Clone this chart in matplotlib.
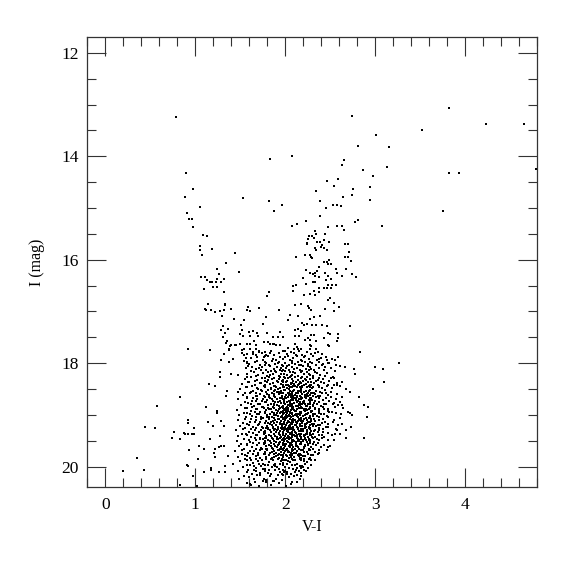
import matplotlib
matplotlib.use('Agg')
import matplotlib.pyplot as plt
from matplotlib.ticker import MultipleLocator

plt.rcParams['font.family'] = ['Liberation Serif', 'DejaVu Serif']

# (V-I, I) pairs
top_stars = [(0.79,13.25),(2.74,13.22),(3.82,13.06),(4.23,13.38),(4.65,13.37),(3.52,13.50),
             (3.01,13.59),(2.81,13.81),(3.15,13.83),(2.07,13.99),(1.83,14.06),(2.65,14.07),
             (2.63,14.16),(2.86,14.26),(2.97,14.39),(3.13,14.20),(3.82,14.33),(3.93,14.32),
             (4.79,14.25),(3.75,15.05),(3.07,15.35),(3.26,18.00),(3.09,18.11),(3.10,18.36),
             (3.00,18.07),(2.98,18.50)]

left_branch = [(0.90,14.32),(0.98,14.63),(0.89,14.78),(1.53,14.81),(1.05,14.99),(0.91,15.09),
               (0.93,15.21),(0.96,15.22),(0.97,15.37),(1.09,15.53),(1.13,15.55),(1.05,15.73),
               (1.05,15.81),(1.19,15.80),(1.07,15.91),(1.44,15.87),(1.34,16.06),(1.24,16.18),
               (1.49,16.23),(1.26,16.27),(1.06,16.33),(1.11,16.33),(1.13,16.40),(1.24,16.37),
               (1.32,16.38),(1.16,16.44),(1.19,16.44),(1.23,16.43),(1.29,16.43),(1.10,16.56),
               (1.20,16.53),(1.24,16.53),(1.32,16.62),(1.82,16.62),(1.80,16.70),(1.33,16.86),
               (1.33,16.88),(1.14,16.86),(1.11,16.95),(1.12,16.98),(1.17,16.98),(1.22,17.02),
               (1.27,17.00),(1.32,16.97),(1.40,16.96),(1.59,16.91),(1.58,16.98),(1.61,17.00),
               (1.71,16.93),(1.30,17.09),(1.43,17.15),(1.54,17.17),(1.51,17.26),(1.31,17.28),
               (1.75,17.24),(1.79,17.10),(1.29,17.35),(1.36,17.34),(1.33,17.42),(1.52,17.36),
               (1.60,17.39),(1.64,17.38),(1.69,17.42),(1.80,17.42),(1.50,17.44),(1.53,17.47),
               (1.31,17.49),(1.61,17.48),(1.70,17.47),(1.35,17.57),(1.34,17.61),(1.39,17.66),
               (1.45,17.64),(1.50,17.62),(1.57,17.63),(1.61,17.63),(1.65,17.58),(1.68,17.64),
               (1.76,17.60),(1.81,17.60),(0.92,17.73),(1.37,17.73),(1.54,17.73),(1.67,17.73),
               (1.82,14.86)]

giant_branch = [(2.59,14.43),(2.46,14.48),(2.54,14.57),(2.94,14.59),(2.34,14.67),(2.75,14.64),
                (2.74,14.75),(2.64,14.79),(2.94,14.84),(2.39,14.86),(1.96,14.95),(1.87,15.05),
                (2.45,15.00),(2.53,14.95),(2.57,14.95),(2.62,14.97),(2.39,15.16),(2.23,15.25),
                (2.81,15.24),(2.78,15.27),(2.08,15.34),(2.13,15.31),(2.47,15.37),(2.57,15.35),
                (2.63,15.35),(2.65,15.42),(2.33,15.44),(2.34,15.51),(2.44,15.51),(2.26,15.55),
                (2.30,15.55),(2.32,15.58),(2.25,15.60),(2.43,15.62),(2.49,15.65),(2.35,15.66),
                (2.39,15.65),(2.24,15.68),(2.24,15.70),(2.66,15.70),(2.70,15.70),(2.41,15.71),
                (2.40,15.75),(2.33,15.77),(2.43,15.78),(2.46,15.82),(2.34,15.82),(2.71,15.85),
                (2.12,15.94),(2.22,15.91),(2.27,15.91),(2.29,15.94),(2.30,15.97),(2.66,15.94),
                (2.70,15.94),(2.73,16.02),(2.49,16.00),(2.43,16.04),(2.46,16.05),(2.51,16.08),
                (2.47,16.09),(2.37,16.14),(2.68,16.17),(2.56,16.18),(2.23,16.20),(2.35,16.22),
                (2.57,16.25),(2.33,16.25),(2.44,16.25),(2.31,16.27),(2.27,16.26),(2.74,16.27),
                (2.63,16.31),(2.33,16.32),(2.37,16.33),(2.48,16.32),(2.20,16.35),(2.79,16.34),
                (2.51,16.37),(2.45,16.39),(2.33,16.43),(2.31,16.43),(2.23,16.46),(2.56,16.48),
                (2.48,16.48),(2.52,16.49),(2.12,16.49),(2.09,16.51),(2.37,16.54),(2.43,16.55),
                (2.46,16.54),(2.51,16.55),(2.32,16.60),(2.38,16.62),(2.09,16.60),(2.28,16.66),
                (2.33,16.69),(2.21,16.69),(2.50,16.74),(2.47,16.78),(2.54,16.84),(2.11,16.87),
                (2.17,16.85),(2.25,16.90),(2.26,16.93),(2.44,16.95),(2.60,16.92),(2.29,16.98),
                (1.93,16.97),(2.54,17.00),(2.05,17.07),(2.14,17.08),(2.32,17.11),(2.39,17.09),
                (2.27,17.15),(2.03,17.17),(2.19,17.22),(2.24,17.24),(2.21,17.26),(2.30,17.27),
                (2.34,17.27),(2.41,17.27),(2.46,17.29),(2.72,17.29),(2.14,17.33),(2.11,17.36),
                (1.94,17.40),(2.18,17.38),(2.47,17.42),(2.50,17.43),(2.59,17.44),(2.29,17.45),
                (2.32,17.46),(1.86,17.49),(1.92,17.49),(1.97,17.49),(2.11,17.48),(2.15,17.47),
                (2.25,17.51),(2.43,17.51),(2.59,17.51),(1.83,17.62),(1.87,17.62),(1.94,17.64),
                (2.11,17.62),(2.22,17.55),(2.28,17.55),(2.34,17.57),(2.43,17.52),(2.57,17.58),
                (2.27,17.64),(2.29,17.66),(2.13,17.68),(2.03,17.71),(2.10,17.73),(2.14,17.73),
                (2.17,17.73),(2.28,17.73),(2.34,17.73),(2.47,17.65),(2.49,17.67),(2.58,17.58),
                (2.83,17.78)]

faint_blue = [(0.83,18.65),(0.58,18.83),(0.44,19.23),(0.55,19.25),(0.76,19.33),(0.88,19.35),
              (0.74,19.44),(0.83,19.46),(0.35,19.84),(0.20,20.09),(0.43,20.06),(0.91,19.97),
              (0.83,20.35),(1.16,17.75),(1.40,17.64),(1.44,17.64),(1.86,17.63),(1.90,17.64),
              (1.32,17.82),(1.37,17.74),(1.29,17.94),(1.37,17.98),(1.42,17.91),(1.52,17.74),
              (1.52,17.81),(1.54,17.85),(1.57,17.82),(1.56,17.90),(1.54,17.96),(1.58,18.00),
              (1.61,17.73),(1.64,17.78),(1.67,17.84),(1.71,17.76),(1.74,17.81),(1.77,17.78),
              (1.79,17.85),(1.27,18.18),(1.27,18.27),(1.40,18.20),(1.47,18.23),(1.15,18.40),
              (1.22,18.45),(1.35,18.53),(1.34,18.63),(1.47,18.56),(1.12,18.84),(1.24,18.92),
              (1.24,18.96),(0.92,19.10),(0.92,19.15),(1.14,19.13),(1.29,19.11),(1.32,19.22),
              (0.89,19.36),(0.92,19.36),(0.96,19.36),(0.99,19.37),(0.99,19.25),(1.16,19.47),
              (1.28,19.40),(0.93,19.67),(1.04,19.60),(1.10,19.65),(1.22,19.65),(1.26,19.63),
              (1.29,19.60),(1.32,19.60),(1.03,19.85),(1.22,19.81),(1.36,19.79),(0.92,19.98),
              (1.17,20.02),(1.33,19.98),(1.42,19.95),(1.10,20.11),(1.26,20.11),(0.98,20.18),
              (1.33,20.10),(1.47,20.08),(1.02,20.38),(1.61,20.33),(1.49,20.23),(1.54,20.18),
              (1.20,19.21),(1.18,20.07),(1.21,19.74),(1.62,20.36),(1.79,20.29),(1.86,20.27)]

red_outskirts = [(2.52,17.91),(2.55,17.94),(2.59,17.89),(2.56,18.03),(2.61,18.05),(2.66,18.07),
                 (2.49,18.00),(2.42,18.02),(2.46,17.94),(2.76,18.11),(2.78,18.20),(2.51,18.28),
                 (2.54,18.29),(2.54,18.42),(2.57,18.42),(2.63,18.36),(2.68,18.50),(2.72,18.55),
                 (2.82,18.65),(2.87,18.81),(2.92,18.84),(2.70,18.94),(2.72,18.97),(2.74,19.00),
                 (2.53,18.78),(2.59,18.81),(2.63,18.81),(2.48,18.92),(2.52,18.94),(2.91,19.05),
                 (2.73,19.24),(2.67,19.29),(2.59,19.20),(2.57,19.29),(2.55,19.36),(2.61,19.36),
                 (2.87,19.45),(2.68,19.45),(2.54,19.49),(2.48,19.63),(2.50,19.60),(2.46,19.67),
                 (2.37,19.74),(2.18,20.03),(2.20,20.01),(2.11,20.10),(2.17,20.18),(2.02,20.10),
                 (1.99,20.10)]

core_bright = [(1.71,17.79),(1.84,17.77),(1.93,17.80),(1.97,17.76),(2.02,17.83),(2.06,17.78),(2.10,17.81),(2.15,17.77),(2.19,17.84),(2.24,17.79),(2.29,17.82),(2.36,17.78),(2.41,17.83),(1.88,17.84),(2.00,17.76),(2.12,17.85),
 (1.62,17.90),(1.69,17.88),(1.75,17.93),(1.81,17.87),(1.86,17.91),(1.90,17.94),(1.94,17.88),(1.98,17.92),(2.03,17.86),(2.05,17.94),(2.09,17.90),(2.13,17.87),(2.17,17.93),(2.21,17.89),(2.26,17.92),(2.31,17.87),(2.35,17.94),(2.40,17.90),(1.78,17.86),(2.00,17.89),
 (1.60,18.01),(1.66,17.97),(1.72,18.03),(1.77,17.98),(1.82,18.04),(1.85,17.96),(1.89,18.01),(1.93,17.97),(1.96,18.03),(2.00,17.99),(2.04,18.04),(2.07,17.96),(2.11,18.02),(2.14,17.98),(2.18,18.04),(2.22,17.97),(2.25,18.02),(2.30,17.99),(2.34,18.04),(2.38,17.97),(1.98,18.05),(2.08,18.00),
 (1.56,18.10),(1.63,18.07),(1.68,18.12),(1.74,18.08),(1.79,18.14),(1.83,18.06),(1.87,18.11),(1.91,18.08),(1.94,18.13),(1.97,18.06),(2.01,18.10),(2.04,18.14),(2.07,18.07),(2.10,18.12),(2.13,18.09),(2.16,18.14),(2.20,18.06),(2.23,18.11),(2.27,18.08),(2.32,18.13),(2.37,18.10),(2.44,18.07),(1.89,18.15),(2.02,18.06),(2.19,18.15),
 (1.58,18.21),(1.65,18.17),(1.70,18.23),(1.75,18.19),(1.80,18.24),(1.84,18.16),(1.86,18.21),(1.90,18.18),(1.93,18.24),(1.96,18.16),(1.99,18.20),(2.02,18.23),(2.05,18.17),(2.08,18.22),(2.11,18.19),(2.14,18.25),(2.17,18.16),(2.21,18.21),(2.24,18.18),(2.28,18.23),(2.33,18.17),(2.39,18.22),(2.46,18.19),(1.95,18.20),(2.06,18.25),(2.00,18.16),
 (1.55,18.30),(1.62,18.27),(1.69,18.33),(1.74,18.28),(1.78,18.34),(1.82,18.26),(1.85,18.31),(1.88,18.28),(1.91,18.34),(1.94,18.27),(1.97,18.32),(2.00,18.29),(2.02,18.35),(2.05,18.26),(2.08,18.31),(2.11,18.27),(2.14,18.33),(2.17,18.29),(2.20,18.34),(2.24,18.26),(2.27,18.31),(2.31,18.28),(2.36,18.33),(2.42,18.30),(1.99,18.26),(2.09,18.35),(1.93,18.30),(2.22,18.30),
 (1.52,18.41),(1.60,18.37),(1.66,18.43),(1.72,18.39),(1.76,18.44),(1.80,18.36),(1.83,18.41),(1.86,18.38),(1.89,18.44),(1.92,18.36),(1.95,18.40),(1.98,18.43),(2.01,18.37),(2.03,18.42),(2.06,18.38),(2.09,18.44),(2.12,18.36),(2.15,18.41),(2.18,18.38),(2.21,18.43),(2.25,18.37),(2.28,18.42),(2.32,18.39),(2.37,18.44),(2.43,18.38),(2.47,18.43),(1.97,18.37),(2.04,18.45),(2.10,18.40),(1.87,18.45),
 (1.50,18.50),(1.58,18.47),(1.64,18.53),(1.70,18.49),(1.74,18.54),(1.78,18.46),(1.81,18.51),(1.84,18.48),(1.87,18.54),(1.90,18.46),(1.92,18.50),(1.95,18.53),(1.97,18.47),(2.00,18.52),(2.02,18.48),(2.05,18.54),(2.07,18.46),(2.10,18.51),(2.13,18.47),(2.15,18.53),(2.18,18.49),(2.21,18.55),(2.24,18.47),(2.27,18.52),(2.30,18.48),(2.34,18.53),(2.38,18.47),(2.44,18.52),(1.99,18.46),(2.08,18.55),(1.93,18.55),(2.16,18.46)]

core_mid = [(1.53,18.61),(1.61,18.57),(1.67,18.63),(1.72,18.59),(1.76,18.64),(1.79,18.56),(1.82,18.61),(1.85,18.58),(1.88,18.64),(1.91,18.56),(1.93,18.60),(1.96,18.63),(1.98,18.57),(2.01,18.62),(2.03,18.58),(2.06,18.64),(2.08,18.56),(2.11,18.61),(2.14,18.57),(2.16,18.63),(2.19,18.59),(2.22,18.65),(2.25,18.57),(2.28,18.62),(2.32,18.58),(2.36,18.63),(2.41,18.58),(2.47,18.62),(1.95,18.58),(2.04,18.61),(2.13,18.65),(1.87,18.59),(2.00,18.65),
 (1.48,18.70),(1.57,18.67),(1.63,18.73),(1.69,18.69),(1.74,18.74),(1.77,18.66),(1.80,18.71),(1.83,18.68),(1.86,18.74),(1.89,18.66),(1.91,18.70),(1.94,18.73),(1.96,18.67),(1.99,18.72),(2.01,18.68),(2.04,18.74),(2.06,18.66),(2.09,18.71),(2.11,18.67),(2.14,18.73),(2.17,18.69),(2.20,18.75),(2.23,18.67),(2.26,18.72),(2.29,18.68),(2.33,18.73),(2.37,18.68),(2.42,18.72),(1.92,18.75),(1.97,18.70),(2.02,18.75),(2.07,18.70),(2.12,18.70),(1.85,18.70),(2.18,18.66),
 (1.51,18.81),(1.59,18.77),(1.65,18.83),(1.70,18.79),(1.75,18.84),(1.78,18.76),(1.81,18.81),(1.84,18.78),(1.86,18.84),(1.89,18.76),(1.91,18.80),(1.93,18.83),(1.95,18.77),(1.98,18.82),(2.00,18.78),(2.02,18.84),(2.05,18.76),(2.07,18.81),(2.10,18.77),(2.12,18.83),(2.15,18.79),(2.18,18.85),(2.21,18.77),(2.24,18.82),(2.27,18.78),(2.31,18.83),(2.35,18.78),(2.40,18.82),(2.45,18.79),(1.96,18.85),(2.03,18.80),(2.08,18.85),(1.88,18.81),(2.13,18.76),(1.99,18.76),
 (1.46,18.90),(1.55,18.87),(1.62,18.93),(1.68,18.89),(1.72,18.94),(1.76,18.86),(1.79,18.91),(1.82,18.88),(1.85,18.94),(1.87,18.86),(1.90,18.90),(1.92,18.93),(1.94,18.87),(1.97,18.92),(1.99,18.88),(2.01,18.94),(2.03,18.86),(2.06,18.91),(2.08,18.87),(2.11,18.93),(2.13,18.89),(2.16,18.95),(2.19,18.87),(2.22,18.92),(2.26,18.88),(2.29,18.93),(2.33,18.88),(2.38,18.92),(2.43,18.89),(1.95,18.95),(2.00,18.90),(2.05,18.95),(2.10,18.90),(1.84,18.89),(2.15,18.86),(1.97,18.86),(2.02,18.91),
 (1.49,19.01),(1.57,18.97),(1.63,19.03),(1.69,18.99),(1.73,19.04),(1.77,18.96),(1.80,19.01),(1.83,18.98),(1.85,19.04),(1.88,18.96),(1.90,19.00),(1.92,19.03),(1.94,18.97),(1.96,19.02),(1.98,18.98),(2.00,19.04),(2.02,18.96),(2.04,19.01),(2.07,18.97),(2.09,19.03),(2.12,18.99),(2.14,19.05),(2.17,18.97),(2.20,19.02),(2.23,18.98),(2.27,19.03),(2.31,18.98),(2.35,19.02),(2.40,18.99),(2.46,19.03),(1.95,19.05),(2.01,19.00),(2.06,19.05),(2.11,19.00),(1.87,19.01),(2.16,19.00),(1.99,18.96),(2.03,19.03),(1.82,19.05),
 (1.47,19.10),(1.55,19.07),(1.61,19.13),(1.67,19.09),(1.72,19.14),(1.75,19.06),(1.79,19.11),(1.82,19.08),(1.84,19.14),(1.87,19.06),(1.89,19.10),(1.91,19.13),(1.93,19.07),(1.95,19.12),(1.97,19.08),(1.99,19.14),(2.01,19.06),(2.03,19.11),(2.05,19.07),(2.08,19.13),(2.10,19.09),(2.13,19.15),(2.15,19.07),(2.18,19.12),(2.21,19.08),(2.25,19.13),(2.29,19.08),(2.33,19.12),(2.38,19.09),(2.44,19.13),(1.94,19.15),(2.00,19.10),(2.06,19.15),(2.11,19.10),(1.86,19.11),(2.16,19.10),(1.98,19.06),(2.04,19.13),(1.81,19.15),(2.23,19.06),
 (1.50,19.21),(1.58,19.17),(1.64,19.23),(1.70,19.19),(1.74,19.24),(1.77,19.16),(1.80,19.21),(1.83,19.18),(1.86,19.24),(1.88,19.16),(1.90,19.20),(1.92,19.23),(1.94,19.17),(1.96,19.22),(1.98,19.18),(2.00,19.24),(2.02,19.16),(2.04,19.21),(2.06,19.17),(2.09,19.23),(2.11,19.19),(2.14,19.25),(2.16,19.17),(2.19,19.22),(2.22,19.18),(2.26,19.23),(2.30,19.18),(2.34,19.22),(2.39,19.19),(2.45,19.23),(1.95,19.25),(2.01,19.20),(2.07,19.25),(2.12,19.20),(1.85,19.20),(2.17,19.21),(1.99,19.16),(2.05,19.23),(1.79,19.25),(2.24,19.16),(2.08,19.18),
 (1.45,19.30),(1.53,19.27),(1.60,19.33),(1.66,19.29),(1.71,19.34),(1.75,19.26),(1.78,19.31),(1.81,19.28),(1.84,19.34),(1.86,19.26),(1.88,19.30),(1.90,19.33),(1.92,19.27),(1.94,19.32),(1.96,19.28),(1.98,19.34),(2.00,19.26),(2.02,19.31),(2.04,19.27),(2.07,19.33),(2.09,19.29),(2.12,19.35),(2.14,19.27),(2.17,19.32),(2.20,19.28),(2.24,19.33),(2.28,19.28),(2.32,19.32),(2.37,19.29),(2.42,19.33),(1.93,19.35),(1.99,19.30),(2.05,19.35),(2.10,19.30),(1.83,19.30),(2.15,19.31),(1.97,19.26),(2.03,19.33),(1.77,19.35),(2.22,19.26),(2.06,19.28),(1.91,19.29)]

core_faint = [(1.48,19.41),(1.56,19.37),(1.62,19.43),(1.68,19.39),(1.72,19.44),(1.76,19.36),(1.79,19.41),(1.82,19.38),(1.85,19.44),(1.87,19.36),(1.89,19.40),(1.91,19.43),(1.93,19.37),(1.95,19.42),(1.97,19.38),(1.99,19.44),(2.01,19.36),(2.03,19.41),(2.05,19.37),(2.08,19.43),(2.10,19.39),(2.13,19.45),(2.15,19.37),(2.18,19.42),(2.21,19.38),(2.25,19.43),(2.29,19.38),(2.33,19.42),(2.38,19.39),(2.43,19.43),(1.94,19.45),(2.00,19.40),(2.06,19.45),(2.11,19.40),(1.84,19.40),(2.16,19.41),(1.98,19.36),(2.04,19.43),(1.78,19.45),(2.23,19.36),(2.07,19.38),
 (1.46,19.50),(1.54,19.47),(1.61,19.53),(1.67,19.49),(1.71,19.54),(1.75,19.46),(1.78,19.51),(1.81,19.48),(1.84,19.54),(1.86,19.46),(1.88,19.50),(1.90,19.53),(1.92,19.47),(1.94,19.52),(1.96,19.48),(1.98,19.54),(2.00,19.46),(2.02,19.51),(2.04,19.47),(2.07,19.53),(2.09,19.49),(2.12,19.55),(2.14,19.47),(2.17,19.52),(2.20,19.48),(2.24,19.53),(2.28,19.48),(2.32,19.52),(2.37,19.49),(1.93,19.55),(1.99,19.50),(2.05,19.55),(2.10,19.50),(1.83,19.50),(2.15,19.51),(1.97,19.46),(2.03,19.53),(1.77,19.55),(2.22,19.46),
 (1.49,19.61),(1.57,19.57),(1.63,19.63),(1.69,19.59),(1.73,19.64),(1.76,19.56),(1.79,19.61),(1.82,19.58),(1.85,19.64),(1.87,19.56),(1.89,19.60),(1.91,19.63),(1.93,19.57),(1.95,19.62),(1.97,19.58),(1.99,19.64),(2.01,19.56),(2.04,19.61),(2.06,19.57),(2.09,19.63),(2.12,19.59),(2.15,19.65),(2.18,19.57),(2.21,19.62),(2.25,19.58),(2.29,19.63),(2.34,19.58),(2.40,19.62),(1.94,19.65),(2.00,19.60),(2.07,19.65),(1.84,19.60),(2.13,19.61),(1.98,19.56),(1.80,19.65),
 (1.44,19.70),(1.52,19.67),(1.59,19.73),(1.65,19.69),(1.70,19.74),(1.74,19.66),(1.77,19.71),(1.80,19.68),(1.83,19.74),(1.86,19.66),(1.88,19.70),(1.90,19.73),(1.92,19.67),(1.95,19.72),(1.97,19.68),(1.99,19.74),(2.02,19.66),(2.04,19.71),(2.07,19.67),(2.10,19.73),(2.13,19.69),(2.16,19.75),(2.20,19.67),(2.24,19.72),(2.28,19.68),(2.33,19.72),(1.93,19.75),(2.00,19.70),(2.06,19.75),(1.85,19.71),(2.11,19.66),(1.96,19.66),
 (1.47,19.81),(1.55,19.77),(1.61,19.83),(1.67,19.79),(1.72,19.84),(1.76,19.76),(1.79,19.81),(1.82,19.78),(1.85,19.84),(1.88,19.76),(1.90,19.80),(1.93,19.83),(1.95,19.77),(1.98,19.82),(2.01,19.78),(2.04,19.84),(2.07,19.76),(2.10,19.81),(2.14,19.77),(2.18,19.83),(2.22,19.79),(2.27,19.84),(2.31,19.78),(1.96,19.85),(2.02,19.80),(1.87,19.82),
 (1.50,19.90),(1.58,19.87),(1.64,19.93),(1.70,19.89),(1.75,19.94),(1.79,19.86),(1.82,19.91),(1.86,19.88),(1.89,19.94),(1.92,19.86),(1.95,19.90),(1.98,19.93),(2.01,19.87),(2.05,19.92),(2.09,19.88),(2.13,19.94),(2.18,19.87),(2.24,19.92),(2.29,19.88),(1.94,19.95),(2.03,19.89),
 (1.53,20.01),(1.61,19.97),(1.67,20.03),(1.73,19.99),(1.77,20.04),(1.81,19.96),(1.85,20.01),(1.89,19.98),(1.93,20.04),(1.97,19.96),(2.00,20.00),(2.04,20.03),(2.08,19.97),(2.13,20.02),(2.19,19.98),(2.25,20.03),(1.91,20.00),
 (1.57,20.10),(1.65,20.07),(1.72,20.13),(1.78,20.09),(1.84,20.14),(1.89,20.06),(1.94,20.11),(2.00,20.08),(2.06,20.14),(2.12,20.07),(2.17,20.12),(2.23,20.08),(1.96,20.14),
 (1.60,20.20),(1.69,20.17),(1.76,20.23),(1.83,20.19),(1.90,20.24),(1.97,20.16),(2.04,20.21),(2.10,20.18),(2.16,20.24),
 (1.66,20.30),(1.75,20.28),(1.84,20.35),(1.93,20.31),(2.01,20.37),(2.08,20.29),(1.71,20.38),(1.88,20.27)]

core_wings = [(1.64,17.82),(1.76,17.88),(2.22,17.86),(2.33,17.81),(2.45,17.88),(1.83,17.80),
 (1.57,17.97),(1.69,17.95),(1.79,17.99),(2.19,17.95),(2.28,17.98),(2.37,17.92),(2.47,17.99),(1.92,17.99),
 (1.59,18.05),(1.71,18.09),(1.77,18.04),(2.15,18.03),(2.25,18.06),(2.29,18.11),(2.41,18.04),(2.51,18.09),(1.95,18.09),
 (1.62,18.15),(1.73,18.13),(1.81,18.18),(2.18,18.18),(2.26,18.14),(2.35,18.19),(2.43,18.13),(2.55,18.16),(1.98,18.13),(2.09,18.17),
 (1.57,18.26),(1.67,18.24),(1.77,18.28),(1.83,18.22),(2.19,18.27),(2.26,18.21),(2.31,18.25),(2.37,18.28),(2.44,18.24),(2.53,18.27),(2.03,18.28),
 (1.59,18.36),(1.66,18.34),(1.73,18.38),(1.81,18.33),(2.16,18.36),(2.23,18.33),(2.29,18.37),(2.34,18.35),(2.40,18.37),(2.49,18.34),(2.58,18.38),(1.96,18.35),(2.07,18.39),
 (1.56,18.47),(1.63,18.45),(1.69,18.48),(1.78,18.43),(1.84,18.49),(2.19,18.46),(2.26,18.44),(2.31,18.47),(2.36,18.42),(2.41,18.48),(2.46,18.45),(2.52,18.48),(2.61,18.44),(1.94,18.48),(2.04,18.49),
 (1.55,18.58),(1.62,18.55),(1.68,18.57),(1.73,18.52),(1.80,18.59),(2.17,18.56),(2.23,18.53),(2.29,18.57),(2.33,18.59),(2.39,18.55),(2.45,18.58),(2.51,18.55),(2.58,18.59),(1.89,18.52),(2.06,18.59),
 (1.58,18.66),(1.64,18.68),(1.69,18.64),(1.75,18.69),(1.82,18.65),(2.19,18.67),(2.24,18.64),(2.29,18.69),(2.34,18.66),(2.39,18.63),(2.45,18.68),(2.51,18.65),(2.56,18.69),(2.63,18.66),(1.94,18.68),(2.09,18.64),
 (1.55,18.76),(1.62,18.79),(1.67,18.74),(1.72,18.78),(1.79,18.75),(2.16,18.76),(2.22,18.79),(2.28,18.74),(2.32,18.77),(2.38,18.75),(2.43,18.79),(2.49,18.74),(2.54,18.77),(2.61,18.75),(1.87,18.79),(2.05,18.78),
 (1.57,18.86),(1.63,18.84),(1.69,18.88),(1.74,18.85),(1.81,18.87),(2.17,18.85),(2.23,18.88),(2.28,18.84),(2.33,18.86),(2.37,18.89),(2.42,18.85),(2.47,18.88),(2.55,18.85),(2.64,18.87),(1.93,18.88),(2.09,18.84),
 (1.54,18.96),(1.61,18.99),(1.66,18.95),(1.71,18.98),(1.78,18.94),(2.18,18.95),(2.24,18.98),(2.29,18.95),(2.33,18.99),(2.37,18.96),(2.43,18.98),(2.49,18.94),(2.56,18.97),(2.62,18.99),(1.91,18.97),(2.08,18.99),
 (1.56,19.05),(1.62,19.08),(1.67,19.04),(1.73,19.07),(1.80,19.05),(2.18,19.06),(2.24,19.09),(2.28,19.05),(2.32,19.07),(2.37,19.04),(2.42,19.08),(2.48,19.05),(2.54,19.09),(2.61,19.06),(1.92,19.08),(2.07,19.09),
 (1.53,19.16),(1.60,19.19),(1.66,19.14),(1.71,19.18),(1.78,19.15),(2.19,19.15),(2.23,19.18),(2.28,19.14),(2.32,19.17),(2.36,19.19),(2.41,19.15),(2.47,19.18),(2.53,19.14),(2.63,19.17),(1.96,19.18),(2.09,19.14),
 (1.55,19.26),(1.62,19.28),(1.68,19.25),(1.73,19.29),(1.81,19.26),(2.18,19.27),(2.23,19.24),(2.28,19.26),(2.33,19.29),(2.37,19.25),(2.42,19.27),(2.48,19.24),(2.56,19.28),(1.89,19.27),(2.03,19.25),
 (1.52,19.36),(1.58,19.39),(1.64,19.35),(1.69,19.38),(1.76,19.34),(2.18,19.36),(2.22,19.39),(2.27,19.35),(2.31,19.37),(2.36,19.34),(2.41,19.38),(2.47,19.35),(2.52,19.39),(1.94,19.38),(2.08,19.35),
 (1.54,19.46),(1.60,19.48),(1.66,19.44),(1.72,19.47),(1.79,19.45),(2.17,19.47),(2.22,19.44),(2.26,19.48),(2.31,19.45),(2.35,19.47),(2.41,19.45),(2.47,19.48),(1.91,19.47),(2.06,19.44),
 (1.51,19.56),(1.58,19.59),(1.64,19.55),(1.69,19.58),(1.76,19.55),(2.18,19.56),(2.22,19.59),(2.27,19.55),(2.31,19.57),(2.36,19.55),(2.43,19.58),(1.92,19.58),(2.05,19.55),
 (1.54,19.66),(1.61,19.69),(1.67,19.65),(1.72,19.68),(1.79,19.65),(2.17,19.67),(2.21,19.64),(2.26,19.68),(2.31,19.66),(2.37,19.68),(1.93,19.68),(2.08,19.69),
 (1.52,19.76),(1.58,19.79),(1.64,19.75),(1.70,19.78),(1.77,19.75),(2.15,19.76),(2.20,19.79),(2.25,19.75),(2.29,19.77),(2.36,19.76),(1.92,19.78),(2.05,19.77),
 (1.55,19.86),(1.62,19.88),(1.68,19.85),(1.74,19.87),(2.16,19.86),(2.21,19.89),(2.26,19.85),(2.33,19.87),(1.97,19.88),(1.84,19.86),
 (1.57,19.96),(1.65,19.98),(1.71,19.95),(1.78,19.97),(2.11,19.96),(2.16,19.99),(2.22,19.95),(2.29,19.97),(1.87,19.97),(2.02,19.95),
 (1.59,20.06),(1.68,20.08),(1.75,20.05),(1.82,20.07),(2.09,20.05),(2.15,20.09),(2.21,20.06),(1.98,20.07),
 (1.63,20.14),(1.72,20.16),(1.81,20.13),(1.92,20.17),(2.02,20.15),(2.13,20.16),
 (1.65,20.24),(1.79,20.26),(1.96,20.26),(2.06,20.33),(2.13,20.30),(1.58,20.32)]

core_center = [(2.01,18.43),(2.06,18.41),(2.11,18.45),(2.14,18.42),(2.19,18.44),(2.23,18.41),(2.27,18.46),(2.05,18.47),(2.17,18.48),(2.29,18.43),
 (1.99,18.52),(2.04,18.57),(2.09,18.53),(2.12,18.58),(2.17,18.51),(2.21,18.56),(2.26,18.53),(2.31,18.57),(2.07,18.59),(2.14,18.54),(2.24,18.59),
 (2.00,18.67),(2.05,18.62),(2.09,18.68),(2.13,18.63),(2.18,18.66),(2.22,18.61),(2.27,18.67),(2.31,18.63),(2.03,18.65),(2.15,18.69),(2.25,18.64),
 (1.99,18.77),(2.04,18.73),(2.08,18.78),(2.12,18.72),(2.16,18.77),(2.21,18.73),(2.25,18.78),(2.30,18.72),(2.06,18.71),(2.19,18.79),(2.28,18.76),
 (2.01,18.87),(2.05,18.82),(2.09,18.88),(2.14,18.83),(2.18,18.87),(2.23,18.82),(2.27,18.86),(2.31,18.81),(2.03,18.89),(2.16,18.81),(2.21,18.89),
 (1.98,18.97),(2.03,18.92),(2.07,18.98),(2.12,18.93),(2.16,18.97),(2.21,18.91),(2.25,18.96),(2.30,18.93),(2.05,18.96),(2.14,18.99),(2.24,18.91),
 (2.00,19.07),(2.05,19.02),(2.09,19.08),(2.13,19.03),(2.17,19.07),(2.22,19.01),(2.26,19.06),(2.31,19.02),(2.02,19.04),(2.15,19.09),(2.24,19.09),
 (1.99,19.17),(2.03,19.12),(2.07,19.18),(2.12,19.13),(2.16,19.17),(2.20,19.11),(2.24,19.16),(2.29,19.12),(2.05,19.19),(2.14,19.11),(2.27,19.19),
 (2.01,19.27),(2.05,19.22),(2.09,19.28),(2.13,19.23),(2.18,19.27),(2.22,19.21),(2.26,19.26),(2.31,19.22),(2.03,19.29),(2.16,19.21),(2.24,19.29),
 (1.98,19.37),(2.02,19.32),(2.07,19.38),(2.11,19.33),(2.16,19.37),(2.20,19.31),(2.24,19.36),(2.29,19.32),(2.05,19.35),(2.13,19.39),(2.27,19.38),
 (2.00,19.47),(2.04,19.42),(2.08,19.48),(2.13,19.43),(2.17,19.47),(2.21,19.41),(2.26,19.46),(2.30,19.42),(2.02,19.44),(2.15,19.49),(2.23,19.48),
 (1.99,19.57),(2.03,19.52),(2.08,19.58),(2.12,19.53),(2.16,19.57),(2.20,19.51),(2.25,19.56),(2.05,19.59),(2.14,19.51),(2.27,19.52),
 (2.01,19.67),(2.05,19.62),(2.09,19.68),(2.14,19.63),(2.18,19.67),(2.22,19.61),(2.26,19.66),(2.03,19.69),(2.12,19.61),
 (1.98,19.77),(2.03,19.72),(2.08,19.78),(2.12,19.73),(2.17,19.77),(2.21,19.72),(2.06,19.74),(2.15,19.79),
 (2.00,19.87),(2.06,19.82),(2.11,19.88),(2.16,19.83),(2.21,19.86),(2.08,19.85)]

groups = [top_stars, left_branch, giant_branch, faint_blue, red_outskirts,
          core_bright, core_mid, core_faint, core_wings, core_center]

x_label = 'V-I'
y_label = 'I (mag)'

fig = plt.figure(figsize=(5.75, 5.75), dpi=100)
ax = fig.add_axes([0.1518, 0.1525, 0.7826, 0.7826])

for g in groups:
    vi = [p[0] for p in g]
    mag = [p[1] for p in g]
    ax.plot(vi, mag, 's', ms=1.5, mew=0, color='black', clip_on=True)

ax.set_xlim(-0.2, 4.8)
ax.set_ylim(20.4, 11.7)
ax.xaxis.set_major_locator(MultipleLocator(1))
ax.xaxis.set_minor_locator(MultipleLocator(0.2))
ax.yaxis.set_major_locator(MultipleLocator(2))
ax.yaxis.set_minor_locator(MultipleLocator(0.5))

edge = '#333333'
for s in ax.spines.values():
    s.set_color(edge)
    s.set_linewidth(0.9)
ax.tick_params(which='both', direction='in', top=True, right=True, color=edge, width=0.8)
ax.tick_params(which='major', length=13.5, labelsize=12.5, pad=6)
ax.tick_params(which='minor', length=6.8)
ax.tick_params(axis='x', which='major', pad=7)

ax.set_xlabel(x_label, fontsize=11.5, labelpad=4)
ax.set_ylabel(y_label, fontsize=11.5, labelpad=12)

fig.savefig('out.png', dpi=100)
